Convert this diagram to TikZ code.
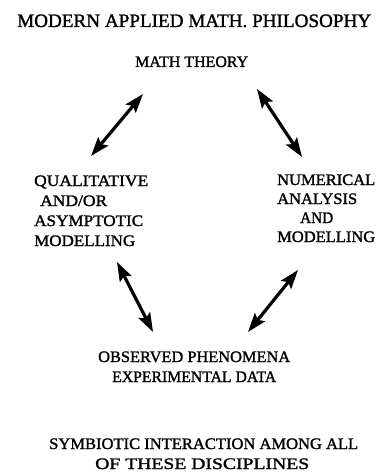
\documentclass[tikz,border=0pt]{standalone}
\usepackage{fontspec}
\setmainfont{Liberation Serif}[FakeBold=1.4]
\usetikzlibrary{arrows.meta}
\newcommand{\fitw}[2]{\resizebox{#1pt}{\height}{#2}}
\begin{document}
\begin{tikzpicture}[x=1pt,y=-1pt,
  lbl/.style={inner sep=0pt, anchor=base west, font=\fontsize{16}{16}\selectfont},
  ttl/.style={inner sep=0pt, anchor=base west, font=\fontsize{19}{19}\selectfont},
  dbl/.style={line width=3.2pt, {Stealth[length=19pt,width=13pt,inset=3.5pt]}-{Stealth[length=19pt,width=13pt,inset=3.5pt]}}]
\useasboundingbox[fill=white] (0,0) rectangle (376,476);
% title
\node[ttl] (title) at (17,27) {\fitw{354}{MODERN APPLIED MATH. PHILOSOPHY}};
% math theory
\node[lbl] (math) at (135,67) {\fitw{113}{MATH THEORY}};
% left block
\node[lbl] (q1) at (34,186) {\fitw{114}{QUALITATIVE}};
\node[lbl] (q2) at (40,206) {\fitw{67}{AND/OR}};
\node[lbl] (q3) at (34,226) {\fitw{109}{ASYMPTOTIC}};
\node[lbl] (q4) at (34,246) {\fitw{101}{MODELLING}};
% right block
\node[lbl] (n1) at (277,185) {\fitw{98}{NUMERICAL}};
\node[lbl] (n2) at (277,204) {\fitw{80}{ANALYSIS}};
\node[lbl] (n3) at (300,223) {\fitw{33}{AND}};
\node[lbl] (n4) at (277,242) {\fitw{98}{MODELLING}};
% bottom
\node[lbl] (o1) at (98,362) {\fitw{192}{OBSERVED PHENOMENA}};
\node[lbl] (o2) at (112,382) {\fitw{164}{EXPERIMENTAL DATA}};
% footer
\node[lbl] (s1) at (49,449) {\fitw{309}{SYMBIOTIC INTERACTION AMONG ALL}};
\node[lbl] (s2) at (95,469) {\fitw{214}{OF THESE DISCIPLINES}};
% arrow end points
\coordinate (a1s) at (91,156);  \coordinate (a1e) at (143,94);
\coordinate (a2s) at (257,89);  \coordinate (a2e) at (302,157);
\coordinate (a3s) at (117,262); \coordinate (a3e) at (153,332);
\coordinate (a4s) at (298,270); \coordinate (a4e) at (248,332);
\draw[dbl] (a1s) -- (a1e);
\draw[dbl] (a2s) -- (a2e);
\draw[dbl] (a3s) -- (a3e);
\draw[dbl] (a4s) -- (a4e);
\end{tikzpicture}
\end{document}
